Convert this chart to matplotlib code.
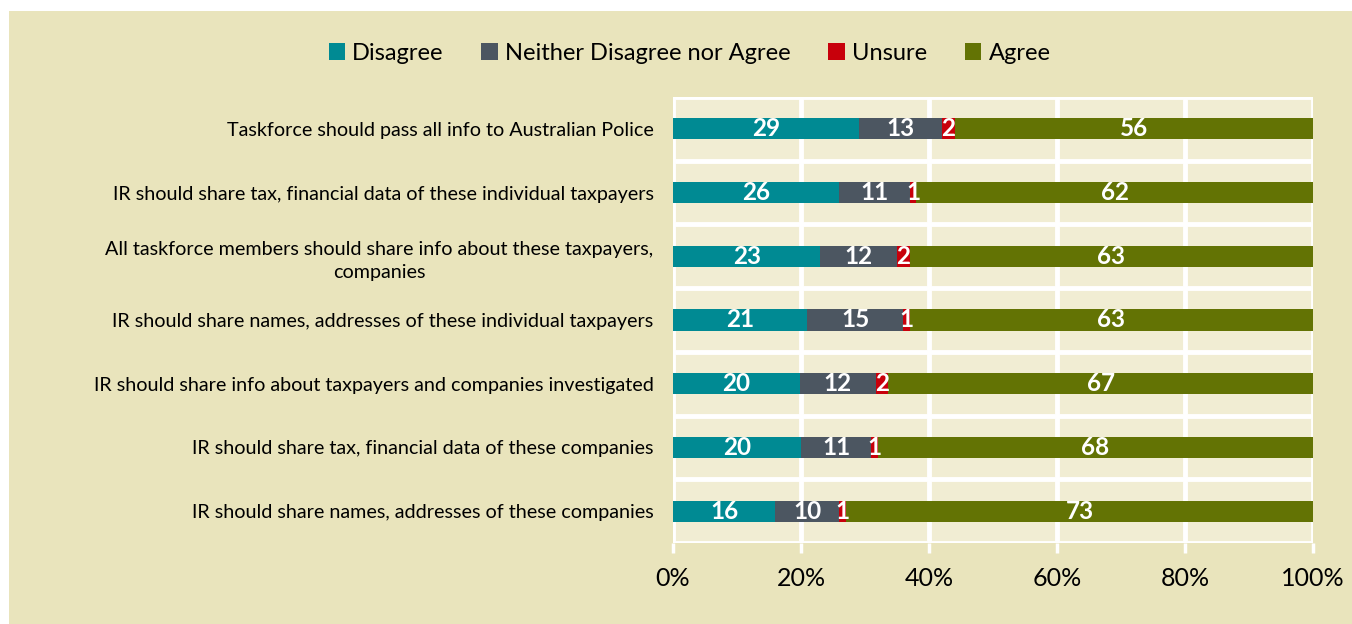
import numpy as np
import matplotlib
matplotlib.use("Agg")
from matplotlib import pyplot as plt
from matplotlib.patches import Rectangle

plt.rcParams["font.family"] = ["Lato", "DejaVu Sans"]

# data, top row first
statements = [
    "Taskforce should pass all info to Australian Police",
    "IR should share tax, financial data of these individual taxpayers",
    "All taskforce members should share info about these taxpayers,\ncompanies",
    "IR should share names, addresses of these individual taxpayers",
    "IR should share info about taxpayers and companies investigated",
    "IR should share tax, financial data of these companies",
    "IR should share names, addresses of these companies",
]
disagree = [29, 26, 23, 21, 20, 20, 16]
neither = [13, 11, 12, 15, 12, 11, 10]
unsure = [2, 1, 2, 1, 2, 1, 1]
agree = [56, 62, 63, 63, 67, 68, 73]

series_names = ["Disagree", "Neither Disagree nor Agree", "Unsure", "Agree"]
colors = ["#008A93", "#4C5661", "#C8000B", "#637304"]

BG = "#E9E4BC"
PLOT_BG = "#F1EDD3"

series = [disagree, neither, unsure, agree]
vals = np.array(series, dtype=float)
shares = vals / vals.sum(axis=0) * 100  # 100% stacked
y = np.arange(len(statements))[::-1]

fig = plt.figure(figsize=(13.52, 6.24), dpi=100, facecolor="white")
fig.patches.append(Rectangle((9 / 1352, 0), 1, 1 - 11 / 624,
                             transform=fig.transFigure, facecolor=BG,
                             edgecolor="none", zorder=-10))
ax = fig.add_axes([0.4978, 0.1298, 0.4734, 0.7148])
ax.set_facecolor(PLOT_BG)

left = np.zeros(len(statements))
for name, raw, share, col in zip(series_names, series, shares, colors):
    bars = ax.barh(y, share, left=left, height=0.33, color=col,
                   label=name, zorder=3)
    ax.bar_label(bars, labels=[str(v) for v in raw], label_type="center",
                 color="white", fontsize=17.5, fontweight="bold", zorder=4)
    left += share

ax.set_xlim(0, 100)
ax.set_ylim(-0.5, len(statements) - 0.5)
ax.set_xticks(np.arange(0, 101, 20))
ax.set_xticklabels([f"{v}%" for v in range(0, 101, 20)])
ax.set_yticks(y)
ax.set_yticklabels(statements, fontsize=14.2, ha="right",
                   multialignment="center", linespacing=1.45)
ax.tick_params(axis="y", length=0, pad=14)
ax.tick_params(axis="x", colors="white", labelcolor="black", labelsize=18,
               length=7, width=2.5, pad=10)

# white grid
ax.set_yticks(np.arange(-0.5, len(statements)), minor=True)
ax.tick_params(axis="y", which="minor", length=0)
ax.grid(axis="x", color="white", linewidth=3.5, zorder=1)
ax.grid(axis="y", which="minor", color="white", linewidth=3.5, zorder=1)
ax.set_axisbelow(True)
for s in ax.spines.values():
    s.set_visible(False)

fig.legend(loc="center", bbox_to_anchor=(0.51, 0.915), ncol=4, frameon=False,
           fontsize=17, handlelength=0.7, handleheight=0.7, handletextpad=0.3,
           columnspacing=1.6)

fig.savefig("out.png", dpi=100, facecolor="white")
